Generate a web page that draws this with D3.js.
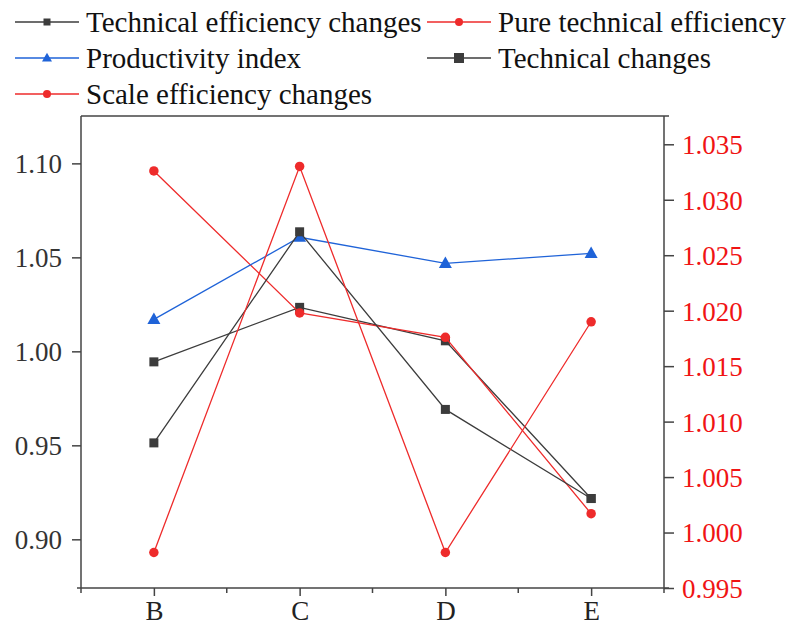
<!DOCTYPE html>
<html>
<head>
<meta charset="utf-8">
<script src="https://cdn.jsdelivr.net/npm/d3@7"></script>
<style>
  html, body { margin: 0; padding: 0; background: #fff; }
  svg { display: block; }
</style>
</head>
<body>
<svg id="chart" width="788" height="626"></svg>
<script>
// Regions on the x axis
const categories = ["B", "C", "D", "E"];

// Left-axis series
const technicalEfficiencyChanges = [0.9944, 1.0234, 1.0056, 0.9217];
const productivityIndex = [1.0170, 1.0607, 1.0468, 1.0521];
const technicalChanges = [0.9513, 1.0636, 0.9691, 0.9217];

// Right-axis series
const pureTechnicalEfficiency = [1.0326, 1.0198, 1.0176, 1.0017];
const scaleEfficiencyChanges = [0.9982, 1.0330, 0.9982, 1.0190];

// Tick values
const leftTicks = [0.90, 0.95, 1.00, 1.05, 1.10];
const leftMinorTicks = [0.875, 0.925, 0.975, 1.025, 1.075, 1.125];
const rightTicks = [0.995, 1.000, 1.005, 1.010, 1.015, 1.020, 1.025, 1.030, 1.035];
const rightMinorTicks = [0.9975, 1.0025, 1.0075, 1.0125, 1.0175, 1.0225, 1.0275, 1.0325, 1.0375];

const FONT = '"Liberation Serif", "Times New Roman", serif';
const svg = d3.select("#chart");
const plot = { left: 81, right: 664, top: 116, bottom: 588 };

const x = d3.scalePoint().domain(categories).range([plot.left, plot.right]).padding(0.5);
const yLeft = d3.scaleLinear().domain([0.8741, 1.1252]).range([plot.bottom, plot.top]);
const yRight = d3.scaleLinear().domain([0.995, 1.03755]).range([plot.bottom, plot.top]);

const GRAY = "#3c3c3c", RED = "#ee2b2b", BLUE = "#1f63d8";
const AXIS = "#444";

// Top frame line
svg.append("line").attr("x1", plot.left).attr("x2", plot.right + 5)
  .attr("y1", plot.top).attr("y2", plot.top)
  .attr("stroke", AXIS).attr("stroke-width", 1.5);

// Left axis
const gl = svg.append("g").attr("transform", `translate(${plot.left},0)`);
gl.call(d3.axisLeft(yLeft).tickValues(leftMinorTicks).tickSize(5).tickFormat(""));
gl.call(d3.axisLeft(yLeft).tickValues(leftTicks).tickSize(9).tickPadding(10).tickFormat(d3.format(".2f")));
gl.selectAll("path.domain").attr("d", `M0,${plot.top}V${plot.bottom}`);
gl.selectAll("text").attr("fill", "#333").attr("dy", "0.35em")
  .style("font-family", FONT).style("font-size", "27px");

// Right axis
const gr = svg.append("g").attr("transform", `translate(${plot.right},0)`);
gr.call(d3.axisRight(yRight).tickValues(rightMinorTicks).tickSize(5).tickFormat(""));
gr.call(d3.axisRight(yRight).tickValues(rightTicks).tickSize(10).tickPadding(8).tickFormat(d3.format(".3f")));
gr.selectAll("path.domain").attr("d", `M0,${plot.top}V${plot.bottom}`);
gr.selectAll("text").attr("fill", "#f01414").attr("dy", "0.35em")
  .style("font-family", FONT).style("font-size", "27px");

// Bottom axis: major ticks at categories, minor ticks between them and at the edges
const gb = svg.append("g").attr("transform", `translate(0,${plot.bottom})`);
const step = x.step();
const minorX = d3.range(categories.length + 1).map(i => plot.left + i * step);
gb.selectAll("line.minor").data(minorX).join("line")
  .attr("class", "minor").attr("x1", d => d).attr("x2", d => d)
  .attr("y1", 0).attr("y2", 5).attr("stroke", AXIS).attr("stroke-width", 1.5);
gb.call(d3.axisBottom(x).tickSize(8).tickPadding(5));
gb.selectAll("path.domain").attr("d", `M${plot.left - 4},0H${plot.right + 5}`);
gb.selectAll("text").attr("fill", "#222")
  .style("font-family", FONT).style("font-size", "27px");

svg.selectAll(".domain").attr("stroke", AXIS).attr("stroke-width", 1.5);
svg.selectAll(".tick line").attr("stroke", AXIS).attr("stroke-width", 1.5);

// Series definitions
const series = [
  { name: "Technical efficiency changes", values: technicalEfficiencyChanges, y: yLeft, color: GRAY, marker: "square", size: 9, legendSize: 7 },
  { name: "Pure technical efficiency", values: pureTechnicalEfficiency, y: yRight, color: RED, marker: "circle", size: 9.5, legendSize: 8 },
  { name: "Productivity index", values: productivityIndex, y: yLeft, color: BLUE, marker: "triangle", size: 13, legendSize: 10 },
  { name: "Technical changes", values: technicalChanges, y: yLeft, color: GRAY, marker: "square", size: 9, legendSize: 10 },
  { name: "Scale efficiency changes", values: scaleEfficiencyChanges, y: yRight, color: RED, marker: "circle", size: 9.5, legendSize: 8 }
];

function drawMarker(g, kind, cx, cy, size, color) {
  if (kind === "square") {
    g.append("rect").attr("x", cx - size / 2).attr("y", cy - size / 2)
      .attr("width", size).attr("height", size).attr("fill", color);
  } else if (kind === "circle") {
    g.append("circle").attr("cx", cx).attr("cy", cy).attr("r", size / 2).attr("fill", color);
  } else {
    const h = size * 0.87;
    g.append("path")
      .attr("d", `M${cx},${cy - h * 0.6}L${cx + size / 2},${cy + h * 0.4}L${cx - size / 2},${cy + h * 0.4}Z`)
      .attr("fill", color);
  }
}

const lineGen = (s) => d3.line().x((d, i) => x(categories[i])).y(d => s.y(d));

series.forEach(s => {
  const g = svg.append("g");
  g.append("path").datum(s.values).attr("d", lineGen(s))
    .attr("fill", "none").attr("stroke", s.color).attr("stroke-width", 1.3);
  s.values.forEach((v, i) => drawMarker(g, s.marker, x(categories[i]), s.y(v), s.size, s.color));
});

// Legend
const legendPos = [
  { x: 15, y: 22 },   // Technical efficiency changes
  { x: 427, y: 22 },  // Pure technical efficiency
  { x: 15, y: 58 },   // Productivity index
  { x: 427, y: 58 },  // Technical changes
  { x: 15, y: 94 }    // Scale efficiency changes
];
series.forEach((s, i) => {
  const p = legendPos[i];
  const g = svg.append("g");
  g.append("line").attr("x1", p.x).attr("x2", p.x + 64).attr("y1", p.y).attr("y2", p.y)
    .attr("stroke", s.color).attr("stroke-width", 1.6);
  drawMarker(g, s.marker, p.x + 32, p.y, s.legendSize, s.color);
  g.append("text").attr("x", p.x + 71).attr("y", p.y + 9.5)
    .attr("fill", "#111").style("font-family", FONT).style("font-size", "29px").text(s.name);
});
</script>
</body>
</html>
